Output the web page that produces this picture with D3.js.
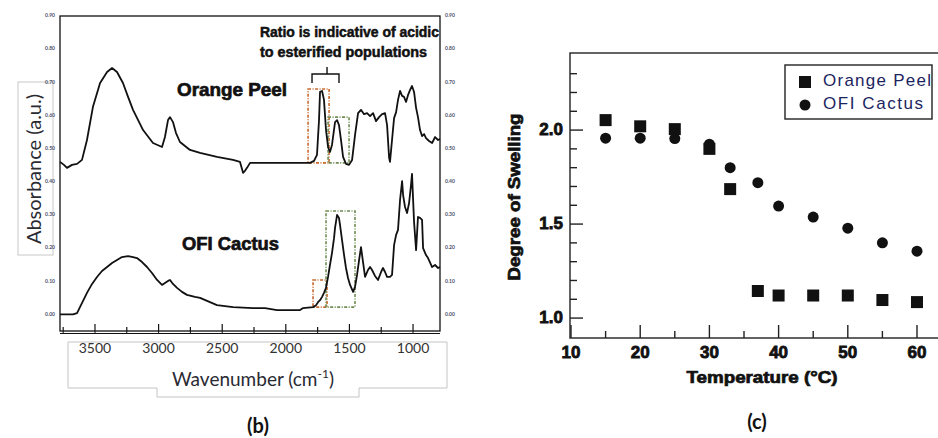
<!DOCTYPE html>
<html><head><meta charset="utf-8">
<script src="https://cdn.jsdelivr.net/npm/d3@7"></script>
<style>body{margin:0;background:#fff}svg{display:block}</style>
</head><body>
<svg id="chart" width="938" height="438"></svg>
<script>
// ---------- Panel (b): FTIR spectra ----------
const opWn = [3775,3744,3720,3681,3641,3602,3563,3516,3460,3405,3366,3327,3280,3240,3201,3122,3044,2973,2950,2926,2910,2887,2863,2832,2753,2674,2541,2415,2360,2336,2321,2305,2281,2148,1967,1810,1778,1755,1739,1731,1715,1700,1684,1668,1653,1637,1613,1597,1582,1566,1550,1527,1503,1479,1456,1432,1409,1385,1361,1338,1314,1291,1267,1243,1220,1204,1188,1181,1165,1149,1133,1118,1102,1086,1071,1055,1039,1023,1008,992,976,961,945,929,913,898,874,850,827,803,788];
const opAbs = [.460,.451,.442,.451,.454,.466,.526,.626,.698,.731,.743,.731,.698,.656,.617,.556,.517,.505,.535,.586,.595,.580,.547,.520,.496,.487,.475,.466,.460,.427,.433,.442,.457,.457,.457,.457,.463,.481,.586,.671,.674,.647,.556,.505,.490,.511,.580,.586,.571,.526,.475,.454,.451,.466,.541,.607,.617,.604,.607,.598,.607,.583,.595,.604,.607,.571,.472,.460,.526,.592,.610,.647,.674,.659,.656,.641,.662,.677,.689,.671,.623,.595,.556,.538,.544,.532,.523,.517,.535,.526,.529];
const ofiWn = [3775,3673,3641,3618,3586,3563,3523,3484,3445,3405,3366,3327,3288,3240,3201,3170,3130,3091,3052,3012,2973,2950,2926,2910,2887,2855,2816,2777,2714,2674,2596,2541,2478,2415,2258,2163,2069,1943,1888,1864,1786,1762,1747,1731,1715,1700,1684,1668,1653,1637,1621,1613,1597,1582,1574,1558,1542,1527,1511,1495,1471,1456,1440,1424,1409,1393,1377,1354,1338,1322,1299,1275,1251,1236,1220,1204,1181,1165,1149,1133,1118,1102,1086,1078,1063,1047,1031,1016,1008,992,976,961,945,929,921,898,882,850,827,803,788];
const ofiAbs = [0,0,.004,.022,.047,.065,.092,.113,.131,.143,.155,.164,.173,.176,.173,.170,.158,.143,.125,.104,.089,.095,.101,.104,.092,.080,.068,.059,.053,.050,.037,.028,.025,.022,.019,.019,.013,.013,.013,.019,.022,.028,.037,.043,.053,.065,.080,.113,.149,.185,.230,.261,.300,.291,.270,.224,.179,.140,.110,.089,.068,.083,.119,.164,.203,.158,.113,.134,.143,.134,.116,.104,.128,.140,.128,.113,.113,.119,.209,.240,.255,.345,.402,.360,.324,.306,.336,.390,.424,.279,.194,.294,.291,.285,.200,.179,.170,.143,.149,.140,.143];
const wnTickLabels = [3500,3000,2500,2000,1500,1000];
const wnMinorTicks = [3750,3500,3250,3000,2750,2500,2250,2000,1750,1500,1250,1000];
const absTicks = [0,0.1,0.2,0.3,0.4,0.5,0.6,0.7,0.8,0.9];
// highlighted band regions [wnFrom, wnTo, absLow, absHigh]
const opAcidBox = [1825,1660,0.457,0.680];
const opEsterBox = [1668,1503,0.457,0.595];
const ofiAcidBox = [1786,1676,0.022,0.104];
const ofiEsterBox = [1684,1456,0.022,0.312];
const annotationLines = ["Ratio is indicative of acidic","to esterified populations"];

// ---------- Panel (c): swelling ----------
const temps = [15,20,25,30,33,37,40,45,50,55,60];
const opSwell = [2.053,2.02,2.005,1.90,1.686,1.144,1.12,1.12,1.12,1.096,1.085];
const ofiSwell = [1.957,1.957,1.955,1.925,1.80,1.72,1.596,1.537,1.478,1.40,1.356];
const tempTicks = [10,20,30,40,50,60];
const tempMinor = [15,25,35,45,55];
const swellMajor = [1.0,1.5,2.0];
const swellMinor = [1.1,1.2,1.3,1.4,1.6,1.7,1.8,1.9,2.1,2.2,2.3];
const seriesNames = ["Orange Peel","OFI Cactus"];

const svg = d3.select("#chart");
const HEAVY = "'Liberation Sans', Arial, sans-serif";

// ===== Panel b =====
const xB = d3.scaleLinear().domain([3775, 788]).range([60, 440]);
const yB = d3.scaleLinear().domain([-0.05, 0.9]).range([331, 16]);
const gB = svg.append("g");

// absorbance label box
gB.append("rect").attr("x",18).attr("y",82).attr("width",35).attr("height",173)
  .attr("fill","none").attr("stroke","#c8c8c8").attr("stroke-width",1);
gB.append("text").attr("transform","translate(36,169) rotate(-90)")
  .attr("text-anchor","middle").attr("dominant-baseline","middle")
  .style("font-family","Lato, 'Open Sans', sans-serif").style("font-size","20px")
  .attr("fill","#2a2a33").text("Absorbance (a.u.)");

// frame
gB.append("rect").attr("x",xB.range()[0]).attr("y",yB.range()[1])
  .attr("width",xB.range()[1]-xB.range()[0]).attr("height",yB.range()[0]-yB.range()[1])
  .attr("fill","none").attr("stroke","#111").attr("stroke-width",1.3);

// bottom ticks
gB.selectAll(".bt").data(wnMinorTicks).join("line")
  .attr("x1",d=>xB(d)).attr("x2",d=>xB(d))
  .attr("y1",331).attr("y2",d=> d%500===0 ? 324 : 327)
  .attr("stroke","#111").attr("stroke-width",1.2);
gB.selectAll(".bt2").data(wnMinorTicks).join("line")
  .attr("x1",d=>xB(d)).attr("x2",d=>xB(d))
  .attr("y1",331).attr("y2",334).attr("stroke","#111").attr("stroke-width",1);
gB.append("line").attr("x1",60).attr("x2",440).attr("y1",333.5).attr("y2",333.5).attr("stroke","#111").attr("stroke-width",1);

// tiny side tick labels
gB.selectAll(".lt").data(absTicks).join("text")
  .attr("x",55).attr("y",d=>yB(d)).attr("text-anchor","end").attr("dominant-baseline","middle")
  .style("font-family","Lato, sans-serif").style("font-size","5px").style("font-weight","bold")
  .attr("fill","#4a5068").text(d=>d.toFixed(2));
gB.selectAll(".rt").data(absTicks).join("text")
  .attr("x",445).attr("y",d=>yB(d)).attr("text-anchor","start").attr("dominant-baseline","middle")
  .style("font-family","Lato, sans-serif").style("font-size","5px").style("font-weight","bold")
  .attr("fill","#4a5068").text(d=>d.toFixed(2));

// tick label box
gB.append("path")
  .attr("d","M68,342 H447 V388 H359 V397 H157 V388 H68 Z")
  .attr("fill","none").attr("stroke","#c4c4c4").attr("stroke-width",1);
gB.selectAll(".tl").data(wnTickLabels).join("text")
  .attr("x",d=>xB(d)).attr("y",349).attr("text-anchor","middle").attr("dominant-baseline","middle")
  .style("font-family","Lato, sans-serif").style("font-size","14px")
  .attr("fill","#333").text(d=>d);
const wl = gB.append("text").attr("x",253).attr("y",381).attr("text-anchor","middle")
  .attr("dominant-baseline","middle")
  .style("font-family","Lato, sans-serif").style("font-size","19px").attr("fill","#2a2a33");
wl.append("tspan").text("Wavenumber (cm");
wl.append("tspan").attr("dy",-6).style("font-size","12px").text("-1");
wl.append("tspan").attr("dy",6).text(")");

gB.append("text").attr("x",258).attr("y",428).attr("text-anchor","middle")
  .attr("dominant-baseline","middle")
  .style("font-family","Lato, sans-serif").style("font-size","20px").style("font-weight","bold")
  .attr("fill","#111").text("(b)");

// highlight boxes
function bandBox(b, color){
  gB.append("rect").attr("x",xB(b[0])).attr("y",yB(b[3]))
    .attr("width",xB(b[1])-xB(b[0])).attr("height",yB(b[2])-yB(b[3]))
    .attr("fill","none").attr("stroke",color).attr("stroke-width",1.6)
    .attr("stroke-dasharray","3,1.5,1,1.5");
}
bandBox(opAcidBox,"#c8692b");
bandBox(opEsterBox,"#6f8c52");
bandBox(ofiAcidBox,"#c8692b");
bandBox(ofiEsterBox,"#6f8c52");

// spectra
const lineB = d3.line().x(d=>xB(d[0])).y(d=>yB(d[1]));
gB.append("path").datum(d3.zip(opWn,opAbs)).attr("d",lineB)
  .attr("fill","none").attr("stroke","#111").attr("stroke-width",1.8).attr("stroke-linejoin","round");
gB.append("path").datum(d3.zip(ofiWn,ofiAbs)).attr("d",lineB)
  .attr("fill","none").attr("stroke","#111").attr("stroke-width",1.8).attr("stroke-linejoin","round");

// bracket
const bx0 = xB(1794), bx1 = xB(1582), bxm = xB(1676);
gB.append("path")
  .attr("d",`M${bx0},${yB(0.698)} V${yB(0.725)} H${bx1} V${yB(0.698)} M${bxm},${yB(0.725)} V${yB(0.746)}`)
  .attr("fill","none").attr("stroke","#111").attr("stroke-width",1.4);

// annotation texts
gB.selectAll(".an").data(annotationLines).join("text")
  .attr("x",260).attr("y",(d,i)=>33+i*20).attr("dominant-baseline","middle")
  .attr("textLength",(d,i)=> i===0 ? 179 : 167).attr("lengthAdjust","spacingAndGlyphs")
  .style("font-family",HEAVY).style("font-size","14px").style("font-weight","bold")
  .attr("fill","#111").attr("stroke","#111").attr("stroke-width",0.5).text(d=>d);
gB.append("text").attr("x",177).attr("y",91).attr("dominant-baseline","middle")
  .attr("textLength",110).attr("lengthAdjust","spacingAndGlyphs")
  .style("font-family",HEAVY).style("font-size","19px").style("font-weight","bold")
  .attr("fill","#111").attr("stroke","#111").attr("stroke-width",0.7).text(seriesNames[0]);
gB.append("text").attr("x",182).attr("y",245).attr("dominant-baseline","middle")
  .attr("textLength",97).attr("lengthAdjust","spacingAndGlyphs")
  .style("font-family",HEAVY).style("font-size","19px").style("font-weight","bold")
  .attr("fill","#111").attr("stroke","#111").attr("stroke-width",0.7).text(seriesNames[1]);

// ===== Panel c =====
const xC = d3.scaleLinear().domain([10, 65]).range([571, 951.6]);
const yC = d3.scaleLinear().domain([0.894, 2.41]).range([338, 53]);
const gC = svg.append("g");

gC.append("rect").attr("x",570).attr("y",53).attr("width",390).attr("height",285)
  .attr("fill","none").attr("stroke","#222").attr("stroke-width",1.4);

gC.selectAll(".xt").data(tempTicks.concat(tempMinor)).join("line")
  .attr("x1",d=>xC(d)).attr("x2",d=>xC(d)).attr("y1",338)
  .attr("y2",d=> tempTicks.includes(d) ? 325 : 331)
  .attr("stroke","#222").attr("stroke-width",1.4);
gC.selectAll(".yt").data(swellMajor.concat(swellMinor)).join("line")
  .attr("y1",d=>yC(d)).attr("y2",d=>yC(d)).attr("x1",570)
  .attr("x2",d=> swellMajor.includes(d) ? 583 : 577)
  .attr("stroke","#222").attr("stroke-width",1.4);

gC.selectAll(".xl").data(tempTicks).join("text")
  .attr("x",d=>xC(d)).attr("y",354).attr("text-anchor","middle").attr("dominant-baseline","middle")
  .style("font-family",HEAVY).style("font-size","17px").style("font-weight","bold")
  .attr("fill","#111").attr("stroke","#111").attr("stroke-width",0.8).text(d=>d);
gC.selectAll(".yl").data(swellMajor).join("text")
  .attr("x",563).attr("y",d=>yC(d)).attr("text-anchor","end").attr("dominant-baseline","middle")
  .style("font-family",HEAVY).style("font-size","17px").style("font-weight","bold")
  .attr("fill","#111").attr("stroke","#111").attr("stroke-width",0.8).text(d=>d.toFixed(1));

gC.append("text").attr("x",762).attr("y",379).attr("text-anchor","middle").attr("dominant-baseline","middle")
  .attr("textLength",151).attr("lengthAdjust","spacingAndGlyphs")
  .style("font-family",HEAVY).style("font-size","16px").style("font-weight","bold")
  .attr("fill","#111").attr("stroke","#111").attr("stroke-width",0.7).text("Temperature (°C)");
gC.append("text").attr("transform","translate(516,197) rotate(-90)")
  .attr("text-anchor","middle").attr("dominant-baseline","middle")
  .attr("textLength",167).attr("lengthAdjust","spacingAndGlyphs")
  .style("font-family",HEAVY).style("font-size","16px").style("font-weight","bold")
  .attr("fill","#111").attr("stroke","#111").attr("stroke-width",0.7).text("Degree of Swelling");

gC.append("text").attr("x",757).attr("y",424).attr("text-anchor","middle").attr("dominant-baseline","middle")
  .style("font-family","Lato, sans-serif").style("font-size","20px").style("font-weight","bold")
  .attr("fill","#111").text("(c)");

// points
gC.selectAll(".ofi").data(d3.zip(temps,ofiSwell)).join("circle")
  .attr("cx",d=>xC(d[0])).attr("cy",d=>yC(d[1])).attr("r",5.5).attr("fill","#111");
gC.selectAll(".op").data(d3.zip(temps,opSwell)).join("rect")
  .attr("x",d=>xC(d[0])-6).attr("y",d=>yC(d[1])-6).attr("width",12).attr("height",12).attr("fill","#111");

// legend
gC.append("rect").attr("x",785).attr("y",65).attr("width",147).attr("height",54)
  .attr("fill","#fff").attr("stroke","#222").attr("stroke-width",1.4);
gC.append("rect").attr("x",799).attr("y",76).attr("width",12).attr("height",12).attr("fill","#111");
gC.append("circle").attr("cx",805).attr("cy",105).attr("r",5.5).attr("fill","#111");
gC.selectAll(".lg").data(seriesNames).join("text")
  .attr("x",823).attr("y",(d,i)=>82+i*23).attr("dominant-baseline","middle")
  .attr("textLength",(d,i)=> i===0 ? 108 : 100).attr("lengthAdjust","spacing")
  .style("font-family",HEAVY).style("font-size","17px")
  .attr("fill","#1c2460").text(d=>d);
</script>
</body></html>
